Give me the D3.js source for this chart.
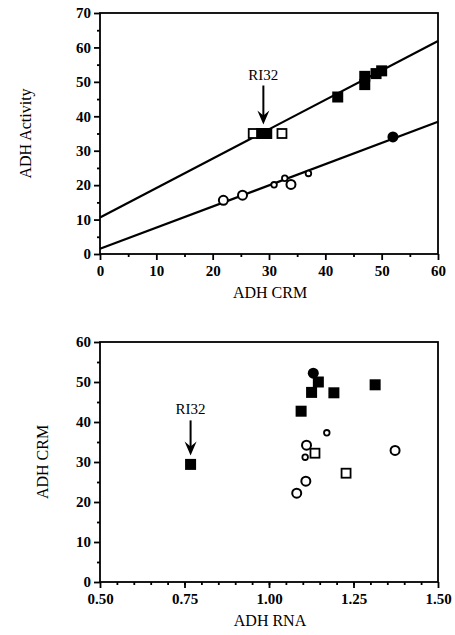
<!DOCTYPE html>
<html>
<head>
<meta charset="utf-8">
<script src="https://cdn.jsdelivr.net/npm/d3@7"></script>
<style>
  body { margin: 0; background: #fff; }
  svg text { font-family: "Liberation Serif", "DejaVu Serif", serif; fill: #000; }
</style>
</head>
<body>
<svg id="chart" width="455" height="635"></svg>
<script>
// top panel: ADH CRM vs ADH Activity
var topFilledSq = [[28.7, 35], [29.6, 35], [42.2, 45.6], [47, 49.2], [47, 51.6], [49, 52.4], [50, 53.2]];
var topOpenSq = [[27.2, 35], [32.3, 35]];
var topFilledCirc = [[52, 34]];
var topOpenCirc = [[21.9, 15.6], [25.3, 17.1], [33.9, 20.2]];
var topSmallCirc = [[30.9, 20.1], [32.8, 22], [37, 23.4]];
var topFits = [[10.6, 0.854], [1.5, 0.615]]; // intercept, slope

// bottom panel: ADH RNA vs ADH CRM
var botFilledSq = [[0.768, 29.4], [1.095, 42.7], [1.126, 47.4], [1.146, 50], [1.192, 47.3], [1.314, 49.3]];
var botOpenSq = [[1.136, 32.2], [1.228, 27.2]];
var botFilledCirc = [[1.131, 52.2]];
var botOpenCirc = [[1.082, 22.2], [1.109, 25.2], [1.111, 34.2], [1.373, 32.9]];
var botSmallCirc = [[1.107, 31.2], [1.171, 37.3]];

var topXTicks = [0, 10, 20, 30, 40, 50, 60];
var topYTicks = [0, 10, 20, 30, 40, 50, 60, 70];
var botXTicks = [0.5, 0.75, 1.0, 1.25, 1.5];
var botYTicks = [0, 10, 20, 30, 40, 50, 60];
var label = "RI32";

var svg = d3.select("#chart");

function panel(opt) {
    var x = d3.scaleLinear().domain(opt.xd).range([100, 438]),
        y = d3.scaleLinear().domain(opt.yd).range([opt.bottom, opt.top]),
        g = svg.append("g");

    // frame
    g.append("rect").attr("x", 100).attr("y", opt.top)
        .attr("width", 338).attr("height", opt.bottom - opt.top)
        .attr("fill", "none").attr("stroke", "#000").attr("stroke-width", 1.8);

    // minor ticks
    var xa = d3.axisBottom(x).tickValues(opt.xMinor).tickSize(3).tickFormat("");
    g.append("g").attr("transform", "translate(0," + opt.bottom + ")").call(xa);
    var ya = d3.axisLeft(y).tickValues(opt.yMinor).tickSize(3).tickFormat("");
    g.append("g").attr("transform", "translate(100,0)").call(ya);

    // major ticks
    var xA = d3.axisBottom(x).tickValues(opt.xTicks).tickSize(6).tickPadding(5).tickFormat(opt.xFmt);
    g.append("g").attr("transform", "translate(0," + opt.bottom + ")").call(xA);
    var yA = d3.axisLeft(y).tickValues(opt.yTicks).tickSize(6).tickPadding(3).tickFormat(d3.format("d"));
    g.append("g").attr("transform", "translate(100,0)").call(yA);

    g.selectAll(".domain").remove();
    g.selectAll(".tick line").attr("stroke", "#000").attr("stroke-width", 1.8);
    g.selectAll(".tick text")
        .style("font-size", "15px").style("font-weight", "bold")
        .style("font-family", "'Liberation Serif', serif");

    // titles
    g.append("text").attr("x", 270).attr("y", opt.bottom + 44)
        .attr("text-anchor", "middle").attr("font-size", 16).text(opt.xTitle);
    g.append("text").attr("transform", "translate(" + opt.yTitleX + "," + (opt.top + opt.bottom) / 2 + ") rotate(-90)")
        .attr("text-anchor", "middle").attr("dy", "0.35em").attr("font-size", 16).text(opt.yTitle);

    // fit lines
    (opt.fits || []).forEach(function (f) {
        g.append("line")
            .attr("x1", x(opt.xd[0])).attr("y1", y(f[0] + f[1] * opt.xd[0]))
            .attr("x2", x(opt.xd[1])).attr("y2", y(f[0] + f[1] * opt.xd[1]))
            .attr("stroke", "#000").attr("stroke-width", 2.2);
    });

    // markers
    g.selectAll(".osq").data(opt.openSq).enter().append("rect")
        .attr("x", function (d) { return x(d[0]) - 4.5; }).attr("y", function (d) { return y(d[1]) - 4.5; })
        .attr("width", 9).attr("height", 9).attr("fill", "#fff").attr("stroke", "#000").attr("stroke-width", 1.8);
    g.selectAll(".fsq").data(opt.filledSq).enter().append("rect")
        .attr("x", function (d) { return x(d[0]) - 5.5; }).attr("y", function (d) { return y(d[1]) - 5.5; })
        .attr("width", 11).attr("height", 11).attr("fill", "#000");
    g.selectAll(".oc").data(opt.openCirc).enter().append("circle")
        .attr("cx", function (d) { return x(d[0]); }).attr("cy", function (d) { return y(d[1]); })
        .attr("r", 4.5).attr("fill", "#fff").attr("stroke", "#000").attr("stroke-width", 2);
    g.selectAll(".sc").data(opt.smallCirc).enter().append("circle")
        .attr("cx", function (d) { return x(d[0]); }).attr("cy", function (d) { return y(d[1]); })
        .attr("r", 2.8).attr("fill", "#fff").attr("stroke", "#000").attr("stroke-width", 1.8);
    g.selectAll(".fc").data(opt.filledCirc).enter().append("circle")
        .attr("cx", function (d) { return x(d[0]); }).attr("cy", function (d) { return y(d[1]); })
        .attr("r", 5.5).attr("fill", "#000");

    // RI32 arrow
    var ax = x(opt.arrowAt[0]), ay = y(opt.arrowAt[1]);
    g.append("text").attr("x", ax).attr("y", ay - opt.arrowLen - 16)
        .attr("text-anchor", "middle").attr("font-size", 15).text(label);
    g.append("line").attr("x1", ax).attr("x2", ax)
        .attr("y1", ay - opt.arrowLen - 10).attr("y2", ay - 14)
        .attr("stroke", "#000").attr("stroke-width", 2);
    g.append("path")
        .attr("d", "M" + (ax - 6) + "," + (ay - 23) + "L" + ax + "," + (ay - 9) + "L" + (ax + 6) + "," + (ay - 23) + "L" + ax + "," + (ay - 18) + "Z")
        .attr("fill", "#000");
}

panel({
    xd: [0, 60], yd: [0, 70], top: 13, bottom: 254,
    xTicks: topXTicks, yTicks: topYTicks,
    xMinor: d3.range(5, 60, 10), yMinor: d3.range(5, 70, 10),
    xFmt: d3.format("d"),
    xTitle: "ADH CRM", yTitle: "ADH Activity", yTitleX: 25,
    fits: topFits,
    filledSq: topFilledSq, openSq: topOpenSq, filledCirc: topFilledCirc,
    openCirc: topOpenCirc, smallCirc: topSmallCirc,
    arrowAt: [29, 35], arrowLen: 38
});

panel({
    xd: [0.5, 1.5], yd: [0, 60], top: 342, bottom: 582,
    xTicks: botXTicks, yTicks: botYTicks,
    xMinor: d3.range(0.55, 1.5, 0.05), yMinor: d3.range(5, 60, 10),
    xFmt: d3.format(".2f"),
    xTitle: "ADH RNA", yTitle: "ADH CRM", yTitleX: 42,
    fits: [],
    filledSq: botFilledSq, openSq: botOpenSq, filledCirc: botFilledCirc,
    openCirc: botOpenCirc, smallCirc: botSmallCirc,
    arrowAt: [0.768, 29.4], arrowLen: 34
});
</script>
</body>
</html>
